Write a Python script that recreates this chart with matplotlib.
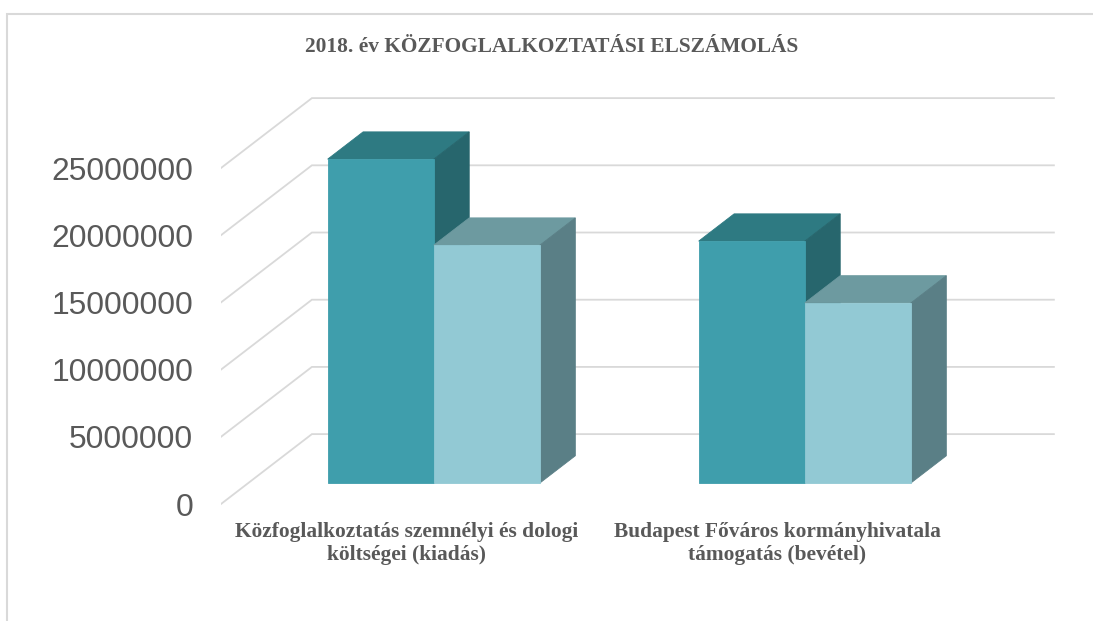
import matplotlib.pyplot as plt
from matplotlib.patches import Polygon, Rectangle

# ---- data -------------------------------------------------------------
title = "2018. év KÖZFOGLALKOZTATÁSI ELSZÁMOLÁS"
categories = ["Közfoglalkoztatás szemnélyi és dologi\nköltségei (kiadás)",
              "Budapest Főváros kormányhivatala\ntámogatás (bevétel)"]
series_1 = [24100000, 18000000]
series_2 = [17700000, 13400000]
yticks = [0, 5000000, 10000000, 15000000, 20000000, 25000000]

# ---- styles -----------------------------------------------------------
front_cols = ["#3F9EAC", "#92C9D4"]
top_cols = ["#2E7A82", "#6D9AA0"]
side_cols = ["#27666D", "#5A7F86"]
grid_col = "#D9D9D9"
text_col = "#595959"

# fake 3d: depth vector (x in category units, y in value units)
DX = 0.245
DY = 5.2e6
Z0, Z1 = 0.30, 0.69      # bar depth range (fraction of full depth)
BW = 0.286               # bar width per series

W, H = 1093, 621
fig = plt.figure(figsize=(W / 100, H / 100), dpi=100)
ax = fig.add_axes([221 / W, 0, 1 - 221 / W, 1])
ax.set_xlim(0, (W - 221) / 371)
ax.set_ylim(-117 / 13.44 * 1e6, 504 / 13.44 * 1e6)
for s in ax.spines.values():
    s.set_visible(False)
ax.set_xticks([])
ax.set_yticks(yticks)
ax.set_yticklabels([str(v) for v in yticks], fontsize=22.9,
                   family="Liberation Sans", color=text_col)
ax.tick_params(axis="y", length=0, pad=20)

# gridlines: side wall diagonals + back wall
n_cat = len(categories)
for v in yticks:
    ax.plot([0, DX, n_cat + DX], [v, v + DY, v + DY], color=grid_col,
            lw=1.3, zorder=1, solid_joinstyle="miter")


def draw_bar(x0, v, k):
    xa, ya = x0 + Z0 * DX, Z0 * DY
    xb, yb = x0 + Z1 * DX, Z1 * DY
    ax.add_patch(Polygon([(xa, v + ya), (xa + BW, v + ya), (xb + BW, v + yb),
                          (xb, v + yb)], closed=True, fc=top_cols[k],
                         ec=top_cols[k], lw=0.6, zorder=3))
    ax.add_patch(Polygon([(xa + BW, ya), (xb + BW, yb), (xb + BW, v + yb),
                          (xa + BW, v + ya)], closed=True, fc=side_cols[k],
                         ec=side_cols[k], lw=0.6, zorder=3))
    ax.add_patch(Rectangle((xa, ya), BW, v, fc=front_cols[k],
                           ec=front_cols[k], lw=0.6, zorder=3))


for i in range(n_cat):
    start = i + 0.5 - BW
    draw_bar(start, series_1[i], 0)
    draw_bar(start + BW, series_2[i], 1)
    ax.text(i + 0.5, 0.1256, categories[i], transform=ax.get_xaxis_transform(),
            ha="center", va="center", fontsize=15.4, family="Liberation Serif",
            fontweight="bold", color=text_col, linespacing=1.2)

fig.text(552 / W, 1 - 47 / H, title, ha="center", va="center", fontsize=15.4,
         family="Liberation Serif", fontweight="bold", color=text_col)

# chart border (top and left edges visible)
fig.add_artist(Rectangle((7 / W, -0.1), 1.2, (H - 14) / H + 0.1,
                         transform=fig.transFigure, fill=False,
                         ec=grid_col, lw=1.5))

fig.savefig("out.png", dpi=100)
